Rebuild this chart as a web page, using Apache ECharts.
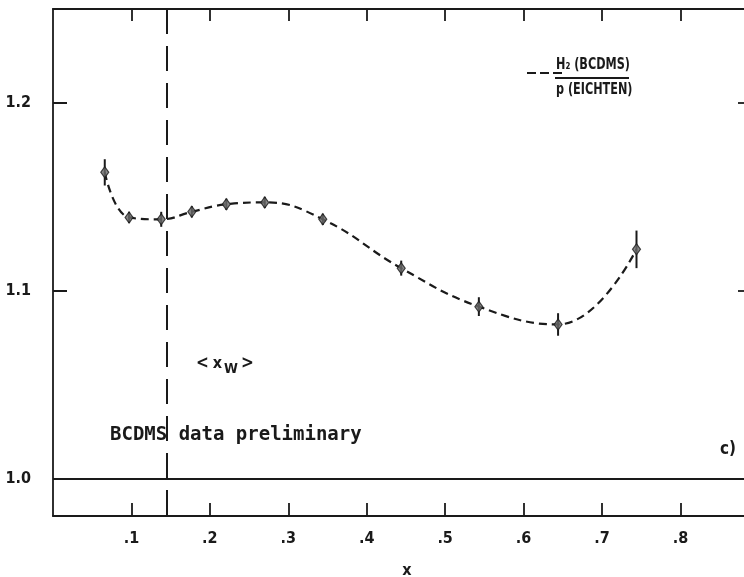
<!DOCTYPE html>
<html>
<head>
<meta charset="utf-8">
<script src="https://cdn.jsdelivr.net/npm/echarts@6/dist/echarts.min.js"></script>
<style>html,body{margin:0;padding:0;background:#fff}#c{width:744px;height:577px}</style>
</head>
<body>
<div id="c"></div>
<script>
// x values of the BCDMS points
const xVals = [0.066, 0.097, 0.138, 0.177, 0.221, 0.270, 0.344, 0.444, 0.543, 0.644, 0.744];
// ratio H2(BCDMS)/p(EICHTEN)
const ratio = [1.163, 1.139, 1.138, 1.142, 1.146, 1.147, 1.138, 1.112, 1.0915, 1.082, 1.122];
// error half-widths
const errs = [0.007, 0.003, 0.004, 0.003, 0.003, 0.003, 0.003, 0.004, 0.005, 0.006, 0.010];
const xTicks = [0.1, 0.2, 0.3, 0.4, 0.5, 0.6, 0.7, 0.8];
const yTicks = [1.0, 1.1, 1.2];
const xW = 0.145;
const refLine = 1.0;

const FONT = 'DejaVu Sans Condensed';
const ink = '#1a1a1a';

const chart = echarts.init(document.getElementById('c'), null, {renderer: 'canvas'});
const pts = xVals.map((x, i) => [x, ratio[i]]);
const errData = xVals.map((x, i) => [x, ratio[i] - errs[i], ratio[i] + errs[i]]);

const axisLineStyle = {color: ink, width: 1.8};
chart.setOption({
  animation: false,
  backgroundColor: '#fff',
  grid: {left: 53, right: -7, top: 9, bottom: 61, containLabel: false, outerBoundsMode: 'none'},
  xAxis: [{
    type: 'value', min: 0, max: 0.89, position: 'bottom',
    splitLine: {show: false},
    axisLine: {onZero: false, lineStyle: axisLineStyle},
    axisTick: {inside: true, length: 13, customValues: xTicks, lineStyle: {color: ink, width: 1.8}},
    axisLabel: {customValues: xTicks, margin: 15, color: ink, fontFamily: FONT, fontWeight: 'bold', fontSize: 16,
      formatter: v => '.' + Math.round(v * 10)},
    name: 'x', nameLocation: 'middle', nameGap: 47,
    nameTextStyle: {color: ink, fontFamily: FONT, fontWeight: 'bold', fontSize: 16, padding: [0, 0, 0, 10]}
  }, {
    type: 'value', min: 0, max: 0.89, position: 'top',
    splitLine: {show: false},
    axisLine: {onZero: false, lineStyle: axisLineStyle},
    axisTick: {inside: true, length: 12, customValues: xTicks, lineStyle: {color: ink, width: 1.8}},
    axisLabel: {show: false}
  }],
  yAxis: [{
    type: 'value', min: 0.98, max: 1.25, position: 'left',
    splitLine: {show: false},
    axisLine: {show: true, onZero: false, lineStyle: axisLineStyle},
    axisTick: {show: true, inside: true, length: 14, customValues: yTicks, lineStyle: {color: ink, width: 2}},
    axisLabel: {customValues: yTicks, margin: 22, color: ink, fontFamily: FONT, fontWeight: 'bold', fontSize: 16,
      formatter: v => v.toFixed(1)}
  }, {
    type: 'value', min: 0.98, max: 1.25, position: 'right',
    splitLine: {show: false},
    axisLine: {show: true, onZero: false, lineStyle: axisLineStyle},
    axisTick: {show: true, inside: true, length: 13, customValues: yTicks, lineStyle: {color: ink, width: 1.8}},
    axisLabel: {show: false}
  }],
  series: [{
    type: 'line',
    data: pts,
    smooth: 0.45,
    showSymbol: false,
    lineStyle: {color: ink, width: 2.2, type: [8, 5]},
    markLine: {
      silent: true, symbol: 'none', label: {show: false},
      data: [
        [{coord: [0, refLine], lineStyle: {type: 'solid', width: 1.8, color: ink}}, {coord: [0.89, refLine]}],
        [{coord: [xW, 1.25], lineStyle: {type: [25, 12], width: 2, color: ink}}, {coord: [xW, 0.98]}]
      ]
    },
    z: 3
  }, {
    type: 'custom',
    data: errData,
    renderItem: (params, api) => {
      const lo = api.coord([api.value(0), api.value(1)]);
      const hi = api.coord([api.value(0), api.value(2)]);
      return {type: 'line', shape: {x1: lo[0], y1: lo[1], x2: hi[0], y2: hi[1]},
        style: {stroke: ink, lineWidth: 2}};
    },
    z: 4
  }, {
    type: 'scatter',
    data: pts,
    symbol: 'diamond',
    symbolSize: [8, 11],
    itemStyle: {color: '#6a6a6a', borderColor: ink, borderWidth: 1.2},
    z: 5
  }],
  graphic: [
    {type: 'line', shape: {x1: 527, y1: 73, x2: 563, y2: 73}, style: {stroke: ink, lineWidth: 2.2, lineDash: [9, 4]}},
    {type: 'text', x: 556, y: 57, scaleX: 0.78, style: {text: 'H₂ (BCDMS)', fill: ink, font: 'bold 16px "DejaVu Sans Condensed"'}},
    {type: 'line', shape: {x1: 555, y1: 78, x2: 629, y2: 78}, style: {stroke: ink, lineWidth: 1.8}},
    {type: 'text', x: 556, y: 82, scaleX: 0.78, style: {text: 'p (EICHTEN)', fill: ink, font: 'bold 16px "DejaVu Sans Condensed"'}},
    {type: 'text', x: 196, y: 352, style: {
      text: '<{x|x}{s|W}>', fill: ink, font: 'bold 17px "DejaVu Sans Condensed"',
      rich: {x: {fontFamily: FONT, fontWeight: 'bold', fontSize: 16, fill: ink, padding: [0, 2, 0, 4]},
             s: {fontFamily: FONT, fontWeight: 'bold', fontSize: 14, fill: ink, padding: [10, 3, 0, 0]}}}},
    {type: 'text', x: 110, y: 426, style: {text: 'BCDMS data preliminary', fill: ink, font: 'bold 19px "DejaVu Sans Mono"'}},
    {type: 'text', x: 720, y: 441, style: {text: 'c)', fill: ink, font: 'bold 17px "DejaVu Sans Condensed"'}}
  ]
});
</script>
</body>
</html>
